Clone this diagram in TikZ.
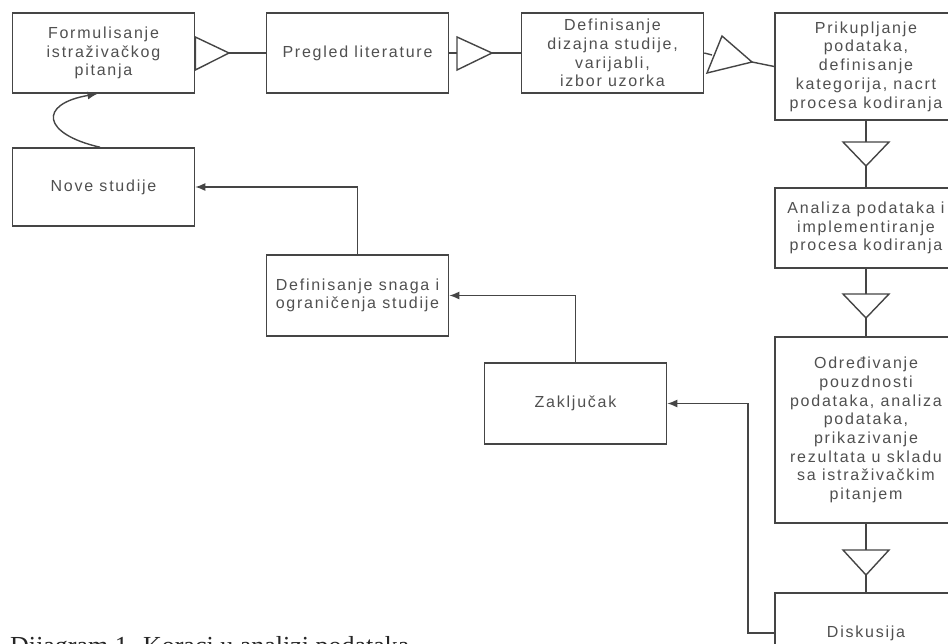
\documentclass[tikz,border=0pt]{standalone}
\usepackage{fontspec}
\usetikzlibrary{arrows.meta,calc}
\newfontfamily\diagfont[LetterSpace=11]{Liberation Sans}
\newfontfamily\capfont{Liberation Serif}
\definecolor{linec}{HTML}{454545}
\definecolor{textc}{HTML}{505050}
\tikzset{
  stepbox/.style={draw=linec, line width=1.6pt, fill=white, minimum width=182pt,
    minimum height=80pt, align=center, text=textc, inner sep=0pt,
    font=\diagfont\fontsize{16}{18.7}\selectfont},
  conn/.style={draw=linec, line width=1.4pt},
  tri/.style={draw=linec, line width=1.4pt, line join=miter},
  arr/.style={draw=linec, line width=1.4pt, -{Latex[length=10pt,width=8pt]}},
}
\begin{document}
\begin{tikzpicture}[x=1pt,y=-1pt]
\clip (0,0) rectangle (948,643);
\fill[white] (0,0) rectangle (948,643);
% top row
\node[stepbox] (b1) at (103.5,53) {Formulisanje\\istraživačkog\\pitanja};
\node[stepbox] (b2) at (357.5,53) {Pregled literature};
\node[stepbox] (b3) at (612.5,53) {Definisanje\\dizajna studije,\\varijabli,\\izbor uzorka};
% right column
\node[stepbox, minimum height=107pt] (b4) at (866,66.5) {Prikupljanje\\podataka,\\definisanje\\kategorija, nacrt\\procesa kodiranja};
\node[stepbox] (b5) at (866,228) {Analiza podataka i\\implementiranje\\procesa kodiranja};
\node[stepbox, minimum height=186pt] (b6) at (866,430) {Određivanje\\pouzdnosti\\podataka, analiza\\podataka,\\prikazivanje\\rezultata u skladu\\sa istraživačkim\\pitanjem};
\node[stepbox] (b7) at (866,633) {Diskusija};
% left part
\node[stepbox, minimum height=78pt] (nove) at (103.5,187) {Nove studije};
\node[stepbox, minimum height=81pt] (snaga) at (357.5,295.5) {Definisanje snaga i\\ograničenja studije};
\node[stepbox, minimum height=81pt] (zak) at (575.5,403.5) {Zaključak};
% triangle 1
\coordinate (t1tip) at (229,53);
\draw[tri] (b1.east |- 0,37) -- (t1tip) -- (b1.east |- 0,70) -- cycle;
\draw[conn] (t1tip) -- (b2.west);
% triangle 2
\coordinate (t2base) at (457,53);
\coordinate (t2tip) at (492,53);
\draw[conn] (b2.east) -- (t2base);
\draw[tri] (457,37) -- (t2tip) -- (457,70) -- cycle;
\draw[conn] (t2tip) -- (b3.west);
% triangle 3 (tilted)
\coordinate (t3base) at (712,55);
\coordinate (t3tip) at (752,62);
\draw[conn] (b3.east) -- (t3base);
\draw[tri] (722,36) -- (t3tip) -- (707,73) -- cycle;
\draw[conn] (t3tip) -- (b4.west);
% triangle 4
\coordinate (t4base) at (866,142);
\coordinate (t4tip) at (866,166);
\draw[conn] (b4.south) -- (t4base);
\draw[tri] (843,142) -- (889,142) -- (t4tip) -- cycle;
\draw[conn] (t4tip) -- (b5.north);
% triangle 5
\coordinate (t5base) at (866,294);
\coordinate (t5tip) at (866,318);
\draw[conn] (b5.south) -- (t5base);
\draw[tri] (843,294) -- (889,294) -- (t5tip) -- cycle;
\draw[conn] (t5tip) -- (b6.north);
% triangle 6
\coordinate (t6base) at (866,550);
\coordinate (t6tip) at (866,575);
\draw[conn] (b6.south) -- (t6base);
\draw[tri] (843,550) -- (889,550) -- (t6tip) -- cycle;
\draw[conn] (t6tip) -- (b7.north);
% feedback arrows
\coordinate (dk) at (748,633);
\draw[arr] (b7.west) -- (dk) |- (zak.east);
\draw[arr] (zak.north) |- (snaga.east);
\draw[arr] (snaga.north) |- (nove.east);
\draw[arr] ([xshift=-3.5pt]nove.north) .. controls (42,134) and (38,104) .. ([xshift=-6pt]b1.south);
% caption
\node[anchor=base west, inner sep=0pt, font=\capfont\fontsize{26}{30}\selectfont, text=black!85] (cap) at (10,654) {Dijagram 1. Koraci u analizi podataka};
\end{tikzpicture}
\end{document}
